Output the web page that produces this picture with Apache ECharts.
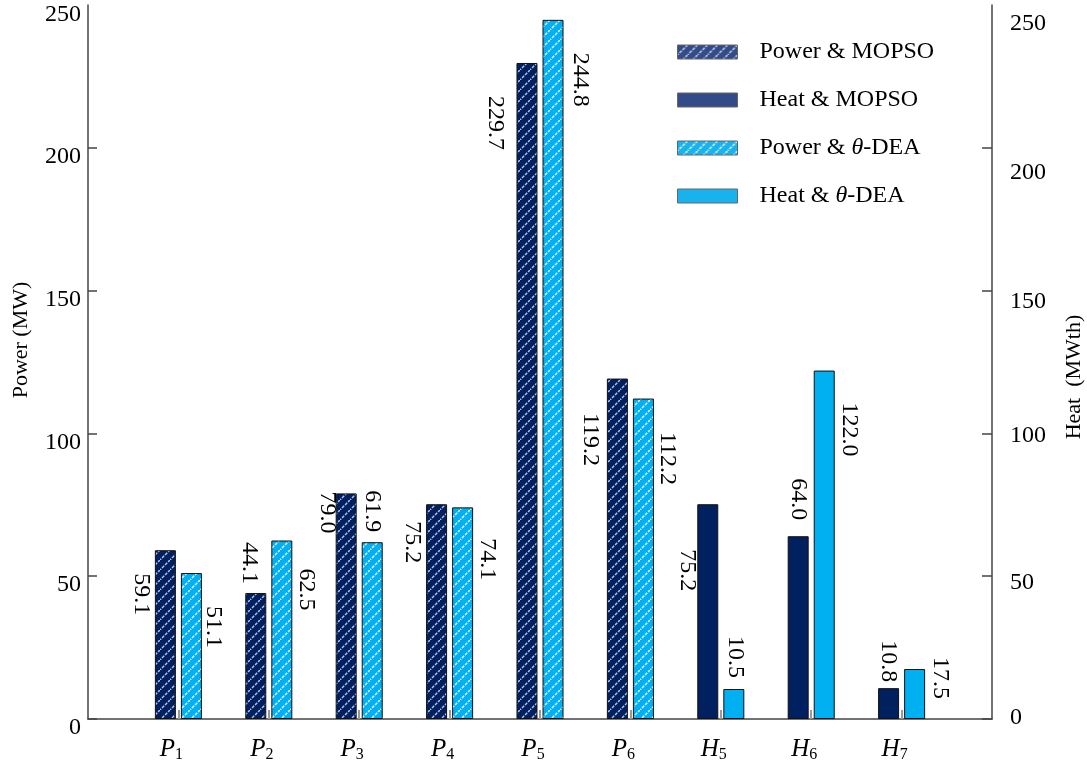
<!DOCTYPE html>
<html>
<head>
<meta charset="utf-8">
<title>Power and heat output</title>
<script src="https://cdn.jsdelivr.net/npm/echarts@6/dist/echarts.min.js"></script>
<style>
  html, body { margin: 0; padding: 0; background: #fff; }
  #chart { width: 1087px; height: 769px; }
</style>
</head>
<body>
<div id="chart"></div>
<script>
// Units: P1..P6 deliver power, H5..H7 deliver heat
const categories = ['P1', 'P2', 'P3', 'P4', 'P5', 'P6', 'H5', 'H6', 'H7'];

// Power (MW) for P1..P6
const powerMopso = [59.1, 44.1, 79.0, 75.2, 229.7, 119.2];
const powerDea   = [51.1, 62.5, 61.9, 74.1, 244.8, 112.2];

// Heat (MWth) for H5..H7
const heatMopso = [75.2, 64.0, 10.8];
const heatDea   = [10.5, 122.0, 17.5];

// Axis ticks
const leftTicks  = [0, 50, 100, 150, 200, 250];
const rightTicks = [0, 50, 100, 150, 200, 250];

// Value label nudges [dx, dy] on screen, from the top centre of each bar
const nudgeMopso = [[-24, 44], [-6, -30], [-19, 19], [-24, 38], [-32, 60], [-27, 61], [-20, 66], [0, -37], [0, -27]];
const nudgeDea   = [[22, 54], [24, 49], [0, -31], [25, 52], [27, 60], [24, 60], [1, -32], [25, 59], [26, 9]];

const FONT = "'Liberation Serif', 'Times New Roman', serif";
const NAVY = '#00205f';
const SKY = '#00b0f0';

// Diagonal dashed hatch used for the power bars
function hatch(bg, stroke) {
  const c = document.createElement('canvas');
  c.width = 10; c.height = 10;
  const g = c.getContext('2d');
  g.fillStyle = bg;
  g.fillRect(0, 0, 10, 10);
  g.strokeStyle = stroke;
  g.lineWidth = 1.5;
  g.setLineDash([3, 1.3]);
  g.beginPath();
  g.moveTo(-1, 11); g.lineTo(11, -1);
  g.stroke();
  return { image: c, repeat: 'repeat' };
}

const axisCats = [''].concat(categories, ['']);

// Label offsets act in the rotated text frame (rotate -90), so the screen
// shift [dx, dy] becomes [dy, -dx] there.
function seriesData(values, offset, nudges) {
  const out = axisCats.map(() => '-');
  values.forEach((v, i) => {
    const k = i + offset;
    const n = nudges[k];
    out[k + 1] = { value: v, label: { offset: [n[1], -n[0]] } };
  });
  return out;
}

const barLabel = {
  show: true,
  rotate: -90,
  position: ['50%', 0],
  align: 'center',
  verticalAlign: 'middle',
  fontFamily: FONT,
  fontSize: 24,
  color: '#000',
  formatter: p => p.value.toFixed(1)
};

function bar(name, stack, values, offset, nudges, color) {
  return {
    name: name,
    type: 'bar',
    stack: stack,
    barWidth: 21,
    barGap: '24%',
    data: seriesData(values, offset, nudges),
    itemStyle: { color: color, borderColor: '#111', borderWidth: 1 },
    label: barLabel
  };
}

// Tick label styles; the top padding drops each number a little below its tick
function tickRich(prefix, ticks, pads) {
  const rich = {};
  ticks.forEach(t => {
    rich[prefix + t] = { fontFamily: FONT, fontSize: 24, color: '#000', padding: pads[t] };
  });
  return rich;
}
const leftPad = { 0: [18, 0, 0, 0], 50: [18, 0, 0, 0], 100: [18, 0, 0, 0], 150: [18, 0, 0, 0], 200: [18, 0, 0, 0], 250: [20, 0, 0, 0] };
const rightPad = { 0: [0, 0, 2, 0], 50: [14, 0, 0, 0], 100: [4, 0, 0, 0], 150: [22, 0, 0, 0], 200: [50, 0, 0, 0], 250: [38, 0, 0, 0] };

const chart = echarts.init(document.getElementById('chart'), null, { renderer: 'canvas' });

chart.setOption({
  animation: false,
  backgroundColor: '#fff',
  grid: { left: 88, right: 95, top: 5, bottom: 50, containLabel: false, outerBoundsMode: 'none' },
  legend: {
    orient: 'vertical',
    left: 672,
    top: 35,
    itemWidth: 60,
    itemHeight: 14,
    itemGap: 24,
    icon: 'rect',
    textStyle: {
      fontFamily: FONT, fontSize: 24, color: '#000', lineHeight: 24,
      padding: [0, 0, 0, 17],
      rich: { it: { fontFamily: FONT, fontSize: 24, fontStyle: 'italic', color: '#000' } }
    },
    formatter: n => n.replace('θ', '{it|θ}'),
    data: [
      { name: 'Power & MOPSO', itemStyle: { color: hatch('#344b8a', '#c9d2ea'), borderColor: '#666', borderWidth: 1 } },
      { name: 'Heat & MOPSO', itemStyle: { color: '#344b8a', borderColor: '#666', borderWidth: 1 } },
      { name: 'Power & θ-DEA', itemStyle: { color: hatch('#18b2ee', '#e3f6ff'), borderColor: '#666', borderWidth: 1 } },
      { name: 'Heat & θ-DEA', itemStyle: { color: '#18b2ee', borderColor: '#666', borderWidth: 1 } }
    ]
  },
  xAxis: {
    type: 'category',
    data: axisCats,
    boundaryGap: false,
    axisLine: { lineStyle: { color: '#444', width: 1.5 } },
    axisTick: {
      show: true, inside: true, length: 9,
      interval: (i) => i > 0 && i < axisCats.length - 1,
      lineStyle: { color: '#999', width: 2 }
    },
    axisLabel: {
      interval: 0,
      margin: 16,
      padding: [0, 14, 0, 0],
      formatter: v => v ? '{i|' + v.charAt(0) + '}{s|' + v.slice(1) + '}' : '',
      rich: {
        i: { fontFamily: FONT, fontSize: 25, fontStyle: 'italic', color: '#000' },
        s: { fontFamily: FONT, fontSize: 16, color: '#000', padding: [12, 0, 0, 0] }
      }
    },
    splitLine: { show: false }
  },
  yAxis: [
    {
      type: 'value',
      position: 'left',
      min: 0, max: 250, interval: 50,
      name: 'Power (MW)',
      nameLocation: 'middle',
      nameGap: 56,
      nameTextStyle: { fontFamily: FONT, fontSize: 22, color: '#000', padding: [0, 0, 0, 44] },
      axisLine: { show: true, lineStyle: { color: '#444', width: 1.5 } },
      axisTick: { show: true, inside: true, length: 9, customValues: [0, 50, 100, 150, 200], lineStyle: { color: '#444', width: 1.5 } },
      axisLabel: {
        customValues: leftTicks,
        margin: 7,
        formatter: v => '{l' + v + '|' + v + '}',
        rich: tickRich('l', leftTicks, leftPad)
      },
      splitLine: { show: false }
    },
    {
      type: 'value',
      position: 'right',
      min: 0, max: 250, interval: 50,
      name: 'Heat  (MWth)',
      nameLocation: 'middle',
      nameGap: 71,
      nameTextStyle: { fontFamily: FONT, fontSize: 22, color: '#000', padding: [0, 30, 0, 0] },
      axisLine: { show: true, lineStyle: { color: '#444', width: 1.5 } },
      axisTick: { show: true, inside: true, length: 10, customValues: [0, 50, 100, 150, 200], lineStyle: { color: '#444', width: 1.5 } },
      axisLabel: {
        customValues: rightTicks,
        margin: 18,
        formatter: v => '{r' + v + '|' + v + '}',
        rich: tickRich('r', rightTicks, rightPad)
      },
      splitLine: { show: false }
    }
  ],
  series: [
    bar('Power & MOPSO', 'mopso', powerMopso, 0, nudgeMopso, hatch(NAVY, '#b4c0e2')),
    bar('Heat & MOPSO', 'mopso', heatMopso, 6, nudgeMopso, NAVY),
    bar('Power & θ-DEA', 'dea', powerDea, 0, nudgeDea, hatch(SKY, '#e6f7ff')),
    bar('Heat & θ-DEA', 'dea', heatDea, 6, nudgeDea, SKY)
  ]
});
</script>
</body>
</html>
